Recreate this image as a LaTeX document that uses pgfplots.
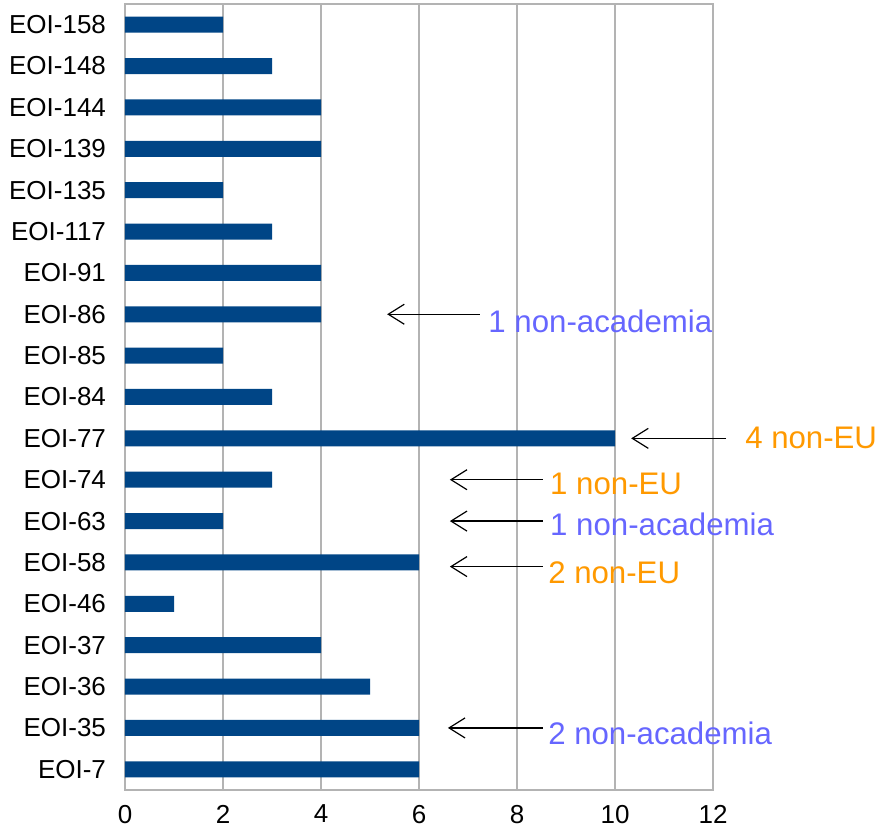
\documentclass[border=0pt]{standalone}
\usepackage{pgfplots}
\pgfplotsset{compat=1.18}
\usepackage{fontspec}
\setmainfont{Liberation Sans}
\usetikzlibrary{arrows.meta}
\definecolor{barblue}{HTML}{004586}
\definecolor{gridgray}{HTML}{B3B3B3}
\definecolor{noteblue}{HTML}{6666FF}
\definecolor{noteorange}{HTML}{FF9900}

\begin{document}
\begin{tikzpicture}
\begin{axis}[
  at={(0,0)}, anchor=south west,
  width=294pt, height=393pt, scale only axis,
  xmin=0, xmax=12, ymin=-0.5, ymax=18.5,
  xtick={0,2,...,12},
  ytick={0,...,18},
  yticklabels={EOI-7,EOI-35,EOI-36,EOI-37,EOI-46,EOI-58,EOI-63,EOI-74,EOI-77,EOI-84,EOI-85,EOI-86,EOI-91,EOI-117,EOI-135,EOI-139,EOI-144,EOI-148,EOI-158},
  xmajorgrids,
  major grid style={gridgray, line width=0.6pt},
  axis line style={gridgray, line width=0.8pt},
  major tick length=0pt,
  tick style={draw=none},
  tick label style={font=\fontsize{13}{15}\selectfont, black},
  /pgf/number format/assume math mode=true,
  yticklabel style={xshift=-6pt},
  xticklabel style={yshift=-4pt},
  clip=false,
  xbar, bar width=8pt,
]
\addplot[fill=barblue, draw=none] coordinates {
  (6,0) (6,1) (5,2) (4,3) (1,4) (6,5) (2,6) (3,7) (10,8) (3,9)
  (2,10) (4,11) (4,12) (3,13) (2,14) (4,15) (4,16) (3,17) (2,18)};

% annotations
\tikzset{note arrow/.style={-{Straight Barb[length=8pt,width=10pt]}, line width=0.6pt, black},
         note/.style={anchor=west, inner sep=0pt, font=\fontsize{15.6}{18}\selectfont}}
\draw[note arrow] (axis cs:7.24,11) -- (axis cs:5.35,11);
\node[note, text=noteblue, yshift=-3.5pt] at (axis cs:7.41,11) {1 non-academia};

\draw[note arrow] (axis cs:12.27,8) -- (axis cs:10.33,8);
\node[note, text=noteorange] at (axis cs:12.65,8) {4 non-EU};

\draw[note arrow] (axis cs:8.53,7) -- (axis cs:6.63,7);
\node[note, text=noteorange, yshift=-2pt] at (axis cs:8.67,7) {1 non-EU};

\draw[note arrow] (axis cs:8.53,6) -- (axis cs:6.63,6);
\node[note, text=noteblue, yshift=-1.5pt] at (axis cs:8.67,6) {1 non-academia};

\draw[note arrow] (axis cs:8.53,4.9) -- (axis cs:6.63,4.9);
\node[note, text=noteorange, yshift=-3pt] at (axis cs:8.63,4.9) {2 non-EU};

\draw[note arrow] (axis cs:8.53,1) -- (axis cs:6.59,1);
\node[note, text=noteblue, yshift=-2.5pt] at (axis cs:8.63,1) {2 non-academia};
\end{axis}
\pgfresetboundingbox
\path[use as bounding box] (-62.5pt,-19pt) rectangle (378.5pt,395pt);
\end{tikzpicture}
\end{document}
